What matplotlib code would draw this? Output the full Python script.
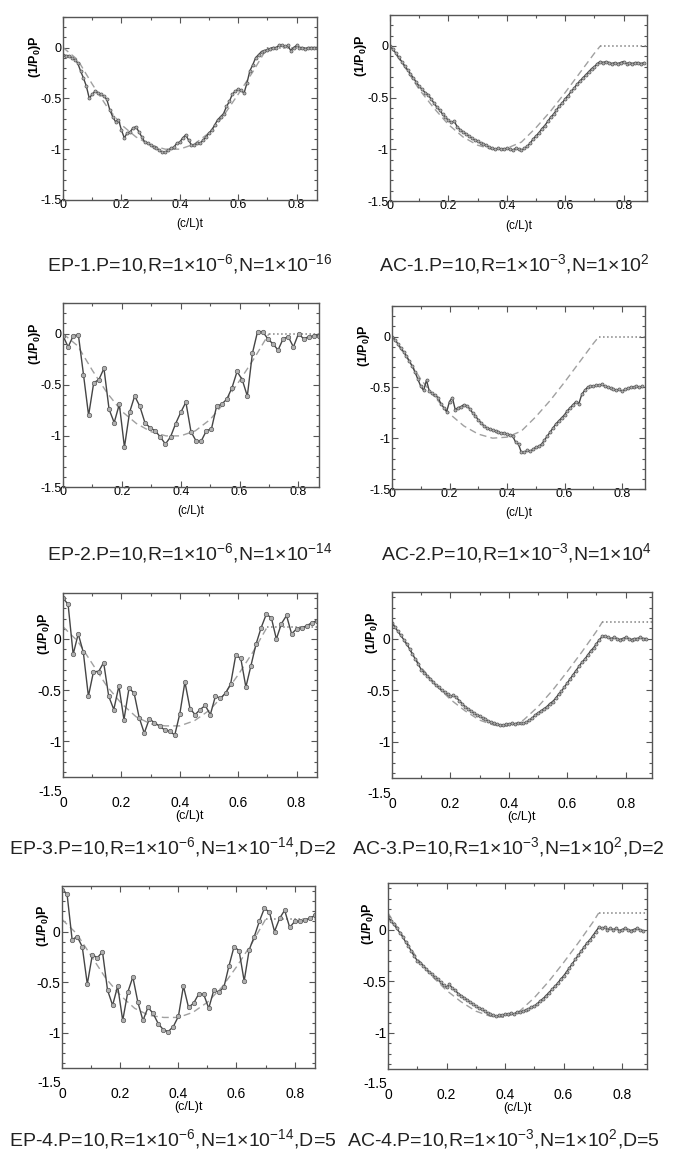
import numpy as np
import matplotlib
matplotlib.use("Agg")
import matplotlib.pyplot as plt
from matplotlib.ticker import MultipleLocator

plt.rcParams['font.family'] = ['Liberation Sans', 'DejaVu Sans']
plt.rcParams['mathtext.fontset'] = 'custom'
plt.rcParams['mathtext.rm'] = 'Liberation Sans'
plt.rcParams['mathtext.it'] = 'Liberation Sans:italic'
plt.rcParams['mathtext.bf'] = 'Liberation Sans:bold'

# ---- data ----
# dense traces, one value every 0.01 in (c/L)t
ep1_p = [-0.07, -0.08, -0.08, -0.10, -0.12, -0.15, -0.23, -0.30, -0.38, -0.50,
         -0.46, -0.43, -0.45, -0.46, -0.48, -0.51, -0.61, -0.68, -0.73, -0.71,
         -0.81, -0.89, -0.84, -0.83, -0.79, -0.78, -0.83, -0.88, -0.93, -0.94,
         -0.96, -0.98, -0.99, -1.01, -1.03, -1.03, -1.01, -0.99, -0.98, -0.94,
         -0.93, -0.89, -0.86, -0.91, -0.96, -0.96, -0.94, -0.94, -0.91, -0.88,
         -0.84, -0.81, -0.76, -0.71, -0.68, -0.65, -0.58, -0.53, -0.46, -0.43,
         -0.41, -0.42, -0.45, -0.35, -0.23, -0.17, -0.10, -0.07, -0.04, -0.03,
         -0.02, -0.01, 0.00, 0.00, 0.02, 0.02, 0.01, 0.02, -0.03, 0.00,
         0.02, 0.00, 0.00, -0.01, 0.00, 0.00, 0.00, 0.00]
ac1_p = [0.00, -0.03, -0.07, -0.11, -0.15, -0.19, -0.23, -0.27, -0.31, -0.35,
         -0.39, -0.42, -0.45, -0.47, -0.51, -0.55, -0.59, -0.62, -0.66, -0.69,
         -0.72, -0.74, -0.73, -0.78, -0.81, -0.83, -0.85, -0.87, -0.89, -0.91,
         -0.92, -0.94, -0.95, -0.96, -0.98, -0.99, -1.00, -0.99, -1.00, -1.00,
         -0.99, -1.00, -1.01, -0.99, -1.00, -1.01, -0.99, -0.97, -0.94, -0.90,
         -0.87, -0.84, -0.80, -0.77, -0.73, -0.69, -0.66, -0.62, -0.58, -0.55,
         -0.51, -0.48, -0.44, -0.41, -0.37, -0.34, -0.31, -0.28, -0.25, -0.22,
         -0.20, -0.17, -0.15, -0.16, -0.15, -0.16, -0.17, -0.16, -0.17, -0.16,
         -0.15, -0.17, -0.16, -0.17, -0.16, -0.16, -0.17, -0.16]
ac2_p = [0.00, -0.03, -0.07, -0.11, -0.15, -0.19, -0.24, -0.29, -0.35, -0.42,
         -0.49, -0.53, -0.43, -0.54, -0.56, -0.58, -0.60, -0.66, -0.70, -0.74,
         -0.64, -0.60, -0.72, -0.70, -0.69, -0.67, -0.68, -0.71, -0.75, -0.78,
         -0.82, -0.85, -0.88, -0.90, -0.91, -0.92, -0.93, -0.94, -0.95, -0.95,
         -0.96, -0.97, -0.98, -1.04, -1.06, -1.14, -1.14, -1.12, -1.13, -1.11,
         -1.09, -1.08, -1.06, -1.02, -0.98, -0.94, -0.90, -0.86, -0.83, -0.80,
         -0.77, -0.73, -0.70, -0.67, -0.64, -0.66, -0.57, -0.53, -0.50, -0.49,
         -0.49, -0.48, -0.48, -0.47, -0.49, -0.50, -0.51, -0.52, -0.53, -0.52,
         -0.54, -0.52, -0.51, -0.50, -0.50, -0.49, -0.50, -0.49]
ac3_p = [0.15, 0.11, 0.07, 0.03, -0.01, -0.05, -0.10, -0.15, -0.20, -0.25,
         -0.30, -0.33, -0.36, -0.39, -0.42, -0.45, -0.47, -0.50, -0.52, -0.54,
         -0.56, -0.55, -0.57, -0.60, -0.63, -0.66, -0.68, -0.70, -0.72, -0.74,
         -0.75, -0.77, -0.78, -0.80, -0.81, -0.82, -0.83, -0.84, -0.84, -0.83,
         -0.83, -0.82, -0.83, -0.82, -0.82, -0.82, -0.81, -0.79, -0.77, -0.74,
         -0.72, -0.70, -0.68, -0.66, -0.63, -0.61, -0.58, -0.54, -0.51, -0.47,
         -0.43, -0.39, -0.35, -0.31, -0.27, -0.23, -0.20, -0.16, -0.12, -0.09,
         -0.05, -0.01, 0.02, 0.02, 0.01, 0.00, 0.01, 0.00, -0.01, 0.00,
         0.01, 0.00, -0.01, 0.00, 0.00, 0.01, 0.00, 0.00]
ac4_p = [0.12, 0.08, 0.05, 0.01, -0.03, -0.07, -0.12, -0.16, -0.21, -0.26,
         -0.30, -0.32, -0.35, -0.38, -0.41, -0.43, -0.46, -0.48, -0.51, -0.54,
         -0.56, -0.53, -0.57, -0.59, -0.62, -0.64, -0.66, -0.68, -0.70, -0.72,
         -0.74, -0.76, -0.77, -0.79, -0.81, -0.82, -0.83, -0.84, -0.83, -0.83,
         -0.82, -0.82, -0.81, -0.82, -0.80, -0.80, -0.79, -0.78, -0.77, -0.75,
         -0.74, -0.72, -0.69, -0.67, -0.64, -0.61, -0.58, -0.55, -0.52, -0.48,
         -0.45, -0.41, -0.37, -0.33, -0.29, -0.25, -0.21, -0.17, -0.13, -0.10,
         -0.06, -0.02, 0.02, 0.01, 0.02, 0.00, 0.01, 0.00, 0.01, -0.01,
         0.00, 0.01, 0.00, -0.01, 0.00, 0.01, 0.00, -0.01]

# coarse noisy traces, 51 samples over 0 .. 0.87
ep2_p = [-0.02, -0.13, -0.02, -0.01, -0.40, -0.80, -0.48, -0.45, -0.34, -0.74,
         -0.87, -0.69, -1.11, -0.77, -0.61, -0.71, -0.87, -0.92, -0.95, -1.01,
         -1.08, -1.01, -0.88, -0.77, -0.67, -0.96, -1.05, -1.05, -0.95, -0.93,
         -0.71, -0.69, -0.64, -0.53, -0.37, -0.45, -0.61, -0.19, 0.02, 0.02,
         -0.05, -0.10, -0.16, -0.05, -0.03, -0.13, 0.00, -0.05, -0.03, -0.02, -0.02]
ep3_p = [0.40, 0.34, -0.15, 0.05, -0.13, -0.56, -0.32, -0.32, -0.23, -0.56,
         -0.69, -0.46, -0.79, -0.48, -0.53, -0.77, -0.92, -0.78, -0.82, -0.85,
         -0.89, -0.90, -0.94, -0.73, -0.42, -0.68, -0.74, -0.69, -0.65, -0.74,
         -0.56, -0.58, -0.53, -0.44, -0.16, -0.19, -0.47, -0.26, -0.05, 0.11,
         0.24, 0.21, 0.00, 0.15, 0.23, 0.05, 0.10, 0.11, 0.13, 0.16, 0.18]
ep4_p = [0.41, 0.37, -0.08, -0.05, -0.15, -0.52, -0.23, -0.26, -0.20, -0.58,
         -0.73, -0.54, -0.88, -0.60, -0.45, -0.70, -0.88, -0.75, -0.81, -0.91,
         -0.97, -0.99, -0.94, -0.84, -0.54, -0.75, -0.71, -0.62, -0.62, -0.76,
         -0.58, -0.60, -0.55, -0.34, -0.15, -0.19, -0.49, -0.18, -0.05, 0.10,
         0.23, 0.19, 0.00, 0.13, 0.21, 0.04, 0.10, 0.10, 0.11, 0.13, 0.16]

# reference (exact) pressure curves
ep_ref_t = [0, 0.05, 0.10, 0.15, 0.20, 0.25, 0.30, 0.35, 0.40, 0.45, 0.50, 0.55, 0.60, 0.65, 0.70]
ep12_ref = [0, -0.12, -0.36, -0.58, -0.76, -0.88, -0.96, -1.00, -1.00, -0.95, -0.84, -0.67, -0.46, -0.24, 0.00]
ep34_ref = [0.12, -0.02, -0.24, -0.46, -0.63, -0.76, -0.83, -0.85, -0.85, -0.80, -0.70, -0.55, -0.35, -0.13, 0.12]
ac_ref_t = [0, 0.05, 0.10, 0.15, 0.20, 0.25, 0.30, 0.35, 0.40, 0.45, 0.50, 0.55, 0.60, 0.65, 0.70, 0.72]
ac12_ref = [0, -0.20, -0.42, -0.60, -0.76, -0.88, -0.96, -1.00, -0.99, -0.93, -0.79, -0.63, -0.45, -0.26, -0.07, 0.00]
ac34_ref = [0.16, -0.06, -0.28, -0.45, -0.59, -0.70, -0.79, -0.84, -0.85, -0.79, -0.66, -0.50, -0.32, -0.13, 0.07, 0.16]

captions = [
    "EP-1.P=10,R=1×10$^{-6}$,N=1×10$^{-16}$",
    "AC-1.P=10,R=1×10$^{-3}$,N=1×10$^{2}$",
    "EP-2.P=10,R=1×10$^{-6}$,N=1×10$^{-14}$",
    "AC-2.P=10,R=1×10$^{-3}$,N=1×10$^{4}$",
    "EP-3.P=10,R=1×10$^{-6}$,N=1×10$^{-14}$,D=2",
    "AC-3.P=10,R=1×10$^{-3}$,N=1×10$^{2}$,D=2",
    "EP-4.P=10,R=1×10$^{-6}$,N=1×10$^{-14}$,D=5",
    "AC-4.P=10,R=1×10$^{-3}$,N=1×10$^{2}$,D=5",
]

W, H = 676, 1162
fig = plt.figure(figsize=(W / 100, H / 100), dpi=100)


def px_axes(l, t, r, b):
    return fig.add_axes([l / W, 1 - b / H, (r - l) / W, (b - t) / H])


def draw(ax, p, dt, ref_t, ref_p, xmax, low, ms):
    t = np.arange(len(p)) * dt if dt else np.linspace(0, 0.87, len(p))
    ax.plot(ref_t, ref_p, ls=(0, (5, 3)), color='#a0a0a0', lw=1.0)
    ax.plot([ref_t[-1], xmax], [ref_p[-1], ref_p[-1]], ls=':', color='#808080', lw=1.1)
    ax.plot(t, p, '-o', color='#454545', lw=1.0, ms=ms, mfc='#b0b0b0',
            mec='#555555', mew=0.5)
    ax.set_xlim(0, xmax)
    ax.xaxis.set_minor_locator(MultipleLocator(0.1))
    ax.yaxis.set_minor_locator(MultipleLocator(0.1))
    ax.set_xticks([0, 0.2, 0.4, 0.6, 0.8])
    ax.set_xticklabels(['0', '0.2', '0.4', '0.6', '0.8'])
    ax.tick_params(which='both', direction='in', top=True, right=True,
                   color='#555555', width=0.8)
    ax.tick_params(which='major', length=4)
    ax.tick_params(which='minor', length=2)
    for s in ax.spines.values():
        s.set_color('#555555')
        s.set_linewidth(1.0)
    ax.set_ylabel('(1/P$_\\mathbf{0}$)P', fontsize=9, fontweight='bold')
    if low:
        ax.set_ylim(-1.35, 0.45)
        ax.set_yticks([-1, -0.5, 0])
        ax.set_yticklabels(['-1', '-0.5', '0'])
        ax.tick_params(axis='x', which='major', labelsize=10, pad=14)
        ax.tick_params(axis='y', which='major', labelsize=10, pad=1)
        ax.text(-0.002, -1.5, '-1.5', ha='right', va='center', fontsize=10,
                transform=ax.get_yaxis_transform(), clip_on=False)
        ax.set_xlabel('(c/L)t', fontsize=9)
        ax.xaxis.set_label_coords(0.5, -0.18)
        ax.yaxis.set_label_coords(-0.045, 0.78)
    else:
        ax.set_ylim(-1.5, 0.3)
        ax.set_yticks([-1.5, -1, -0.5, 0])
        ax.set_yticklabels(['-1.5', '-1', '-0.5', '0'])
        ax.tick_params(axis='y', which='major', labelsize=9, pad=1)
        ax.tick_params(axis='x', which='major', labelsize=9, pad=-1)
        ax.set_xlabel('(c/L)t', fontsize=8.5)
        ax.xaxis.set_label_coords(0.5, -0.1)
        ax.yaxis.set_label_coords(-0.08, 0.78)


boxes = [(63, 17, 317, 200), (390, 15, 647, 201),
         (63, 303, 319, 487), (392, 306, 645, 489),
         (63, 593, 317, 777), (392, 592, 652, 778),
         (62, 886, 315, 1068), (388, 883, 647, 1069)]

series = [
    (ep1_p, 0.01, ep_ref_t, ep12_ref, 0.87, 2.2),
    (ac1_p, 0.01, ac_ref_t, ac12_ref, 0.88, 2.2),
    (ep2_p, None, ep_ref_t, ep12_ref, 0.87, 3.2),
    (ac2_p, 0.01, ac_ref_t, ac12_ref, 0.88, 2.2),
    (ep3_p, None, ep_ref_t, ep34_ref, 0.87, 3.2),
    (ac3_p, 0.01, ac_ref_t, ac34_ref, 0.89, 2.2),
    (ep4_p, None, ep_ref_t, ep34_ref, 0.87, 3.2),
    (ac4_p, 0.01, ac_ref_t, ac34_ref, 0.885, 2.2),
]

for i, (box, s) in enumerate(zip(boxes, series)):
    ax = px_axes(*box)
    p, dt, rt, rp, xmax, ms = s
    draw(ax, p, dt, rt, rp, xmax, i >= 4, ms)

cap_y = [264, 553, 847, 1139]
cap_x = [(190, 514), (190, 517), (173, 508), (173, 503)]
for row in range(4):
    for col in range(2):
        fig.text(cap_x[row][col] / W, 1 - cap_y[row] / H, captions[2 * row + col],
                 ha='center', va='center', fontsize=14, color='#222222')

fig.savefig('out.png', dpi=100)
